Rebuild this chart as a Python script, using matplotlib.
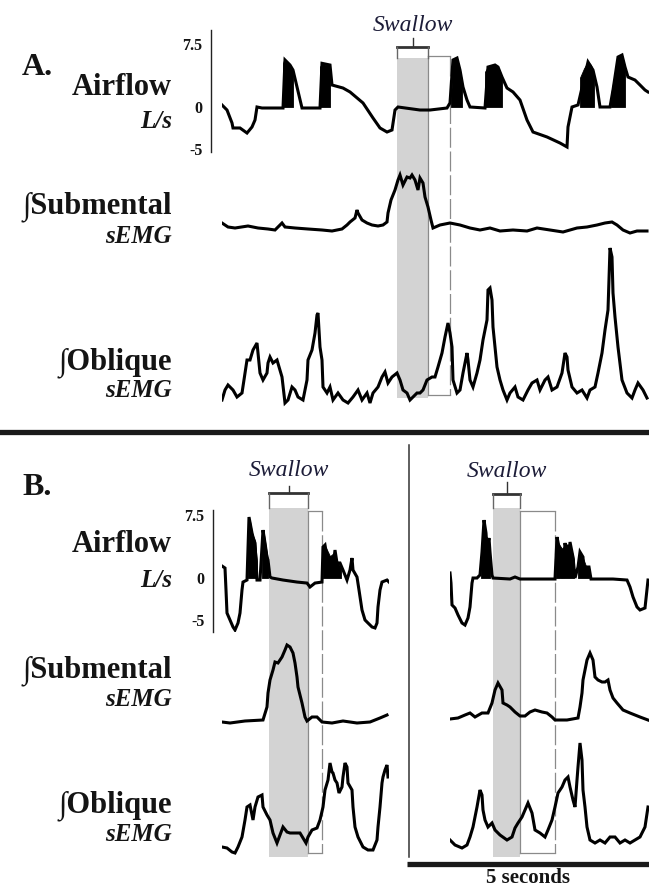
import numpy as np
import matplotlib.pyplot as plt
from matplotlib.patches import Rectangle
from matplotlib.lines import Line2D
from matplotlib.transforms import blended_transform_factory

plt.rcParams['font.family'] = ['Liberation Serif', 'DejaVu Serif']

FS = 48.4

# ---- panel A (one swallow in a long recording) ----
a_air_n = [0, 5, 10, 11, 18, 25, 30, 33, 35, 40, 61, 63, 68, 71, 80, 98, 100, 108, 110, 121,
           128, 141, 151, 158, 165, 170, 173, 176, 198, 208, 225, 228, 231, 235, 238, 241, 245, 248, 263, 266,
           273, 276, 280, 285, 291, 298, 305, 311, 325, 338, 345, 346, 350, 356, 366, 371, 375, 378, 388, 391,
           396, 400, 403, 406, 413, 418, 423, 426]
a_air_v = [0.24, -0.36, -1.9, -2.5, -2.5, -3.1, -2.38, -1.55, 0, -0.12, -0.12, 5.6, 5.0, 4.4, -0.12, -0.12, 5.2, 5.0, 2.62, 2.26,
           1.79, 0.48, -1.31, -2.5, -2.98, -2.74, -0.36, 0, -0.36, -0.36, -0.12, 0.48, 5.6, 5.83, 4.4, 2.38, 0.83, 0, -0.12, 4.76,
           5.0, 4.76, 3.57, 2.26, 1.79, 0.83, -1.55, -2.98, -3.57, -4.29, -4.76, -2.38, 0, 0.24, 5.36, 4.4, 2.38, 0, 0, 2.02,
           5.95, 6.19, 4.76, 3.57, 3.21, 2.62, 2.02, 1.79]
# high-frequency bursts in the airflow (sample index, upper envelope)
a_air_bursts = [([61, 62, 65, 68, 71], [5.2, 5.6, 5.4, 5.0, 4.4]),
                ([98, 100, 104, 108], [4.8, 5.2, 5.0, 5.0]),
                ([229, 231, 235, 238, 240], [1.0, 5.6, 5.8, 4.4, 3.0]),
                ([263, 266, 270, 276, 280], [4.2, 4.8, 5.0, 4.8, 3.6]),
                ([358, 362, 366, 369, 372], [3.5, 4.6, 5.4, 5.0, 4.0]),
                ([389, 392, 396, 400, 403], [1.5, 3.5, 5.9, 6.2, 4.8])]

a_sub_n = [0, 6, 13, 26, 36, 46, 53, 60, 63, 73, 86, 100, 110, 120, 125, 128, 133, 135, 136, 140,
           145, 150, 156, 161, 165, 166, 169, 173, 176, 178, 181, 185, 188, 190, 193, 196, 198, 201, 203, 206,
           209, 211, 218, 228, 238, 248, 258, 268, 278, 291, 305, 315, 328, 341, 355, 365, 375, 383, 390, 395,
           401, 408, 415, 425]
a_sub_v = [9, 5, 4, 6, 4, 3, 2, 9, 5, 4, 3, 2, 1, 3, 7, 10, 14, 22, 19, 12,
           9, 7, 6, 7, 10, 19, 32, 42, 52, 57, 47, 55, 54, 57, 52, 42, 54, 49, 35, 25,
           12, 4, 7, 9, 7, 4, 2, 4, 1, 2, 1, 4, 2, 0, 4, 5, 7, 9, 10, 7,
           2, -1, 1, 1]

a_obl_n = [0, 3, 6, 11, 15, 20, 23, 25, 28, 31, 35, 36, 38, 41, 45, 46, 48, 51, 55, 58,
           60, 63, 66, 70, 73, 76, 81, 85, 86, 90, 93, 95, 96, 98, 100, 101, 105, 108, 111, 116,
           121, 126, 131, 136, 140, 145, 148, 151, 156, 160, 163, 166, 170, 175, 178, 181, 185, 188, 191, 195,
           198, 201, 205, 210, 213, 216, 220, 223, 226, 228, 230, 231, 235, 238, 241, 245, 246, 248, 251, 255,
           258, 261, 265, 266, 268, 270, 271, 273, 275, 278, 281, 285, 288, 293, 296, 301, 306, 310, 315, 318,
           323, 326, 330, 335, 340, 343, 345, 346, 350, 355, 360, 365, 368, 373, 376, 380, 383, 386, 388, 390,
           391, 393, 396, 400, 405, 410, 413, 416, 421, 425]
a_obl_v = [5, 15, 20, 15, 8, 12, 32, 45, 45, 55, 62, 52, 32, 25, 32, 42, 48, 42, 45, 35,
           28, 2, 5, 18, 15, 8, 5, 25, 45, 55, 72, 90, 92, 58, 45, 18, 12, 18, 5, 12,
           5, 2, 8, 15, 5, 12, 2, 12, 18, 28, 33, 22, 28, 32, 25, 15, 12, 5, 8, 12,
           12, 15, 25, 28, 28, 38, 52, 68, 82, 72, 58, 25, 12, 15, 32, 52, 45, 25, 18, 32,
           45, 65, 85, 115, 117, 105, 78, 58, 38, 25, 15, 5, 12, 18, 8, 5, 15, 22, 25, 15,
           25, 28, 15, 18, 32, 52, 48, 35, 18, 12, 15, 7, 15, 18, 32, 52, 75, 95, 157, 148,
           112, 88, 58, 25, 12, 7, 15, 22, 15, 7]

# swallow onset, offset, end of post-swallow window (sample index)
a_swallow = (175, 206, 228)

# ---- panel B, left recording ----
bl_air_n = [0, 3, 4, 5, 8, 11, 13, 16, 18, 20, 21, 25, 27, 30, 31, 33, 35, 38, 41, 43,
            45, 46, 48, 50, 61, 75, 85, 88, 93, 100, 101, 103, 105, 106, 110, 113, 115, 118, 121, 125,
            128, 130, 131, 135, 137, 140, 143, 146, 150, 153, 155, 156, 158, 160, 165, 167]
bl_air_v = [1.43, 1.19, -1.43, -4.17, -5.0, -5.83, -6.19, -5.36, -4.17, -1.43, -0.48, -0.24, 7.26, 5.36, 4.88, 4.17, -0.24, -0.24, 5.71, 4.17,
            2.5, 2.14, 0.12, 0, -0.24, -0.48, -0.6, -1.07, -0.6, -0.48, 3.69, 3.93, 2.5, 1.79, 0.12, 3.33, 1.79, 1.79, 0.95, -0.24,
            0.95, 2.38, 0.95, 0.12, -1.43, -3.81, -5.0, -5.36, -5.83, -5.95, -5.36, -3.45, -1.43, -0.48, -0.24, -0.48]
bl_air_bursts = [([26, 28, 30, 33, 35], [3.0, 6.8, 5.4, 4.4, 2.0]),
                 ([40, 42, 44, 46], [4.0, 5.2, 3.6, 2.2]),
                 ([101, 104, 108, 112, 116, 119], [3.5, 3.6, 2.6, 3.0, 1.8, 1.2])]
bl_sub_n = [0, 8, 23, 41, 45, 46, 48, 51, 53, 56, 60, 63, 65, 68, 71, 73, 75, 76, 80, 83,
            85, 90, 95, 100, 110, 121, 135, 148, 158, 165]
bl_sub_v = [2, 1, 3, 4, 17, 31, 44, 54, 62, 61, 67, 74, 79, 77, 71, 61, 47, 37, 21, 7,
            3, 7, 7, 2, 1, 3, 1, 2, 6, 9]
bl_obl_n = [0, 5, 10, 13, 16, 20, 23, 25, 28, 31, 33, 36, 40, 41, 45, 48, 51, 55, 58, 61,
            65, 68, 73, 78, 81, 84, 86, 90, 95, 98, 101, 103, 106, 108, 110, 111, 113, 115, 117, 120,
            121, 123, 125, 126, 130, 131, 133, 136, 141, 146, 151, 155, 156, 158, 160, 161, 163, 165, 166]
bl_obl_v = [8, 7, 3, 2, 8, 18, 35, 48, 50, 35, 48, 58, 60, 48, 40, 35, 22, 12, 20, 28,
            23, 22, 22, 22, 17, 12, 18, 25, 27, 35, 48, 65, 75, 92, 83, 82, 75, 72, 62, 68,
            78, 92, 88, 72, 65, 48, 28, 18, 8, 5, 5, 15, 28, 48, 72, 78, 85, 90, 78]
bl_swallow = (47, 86, 100)

# ---- panel B, right recording ----
br_air_n = [0, 1, 2, 5, 8, 12, 15, 18, 20, 22, 23, 27, 30, 32, 34, 36, 37, 39, 40, 42,
            43, 60, 65, 70, 97, 105, 107, 109, 111, 113, 115, 117, 118, 120, 123, 125, 128, 130, 133, 134,
            137, 139, 141, 163, 177, 180, 183, 187, 190, 195, 198]
br_air_v = [0.6, -0.6, -3.21, -3.57, -4.4, -5.36, -5.6, -4.76, -3.45, -0.6, 0, 0, 0.36, 3.1, 6.9, 5.36, 3.57, 4.76, 3.1, 0.36,
            0, -0.12, 0.12, -0.12, -0.12, -0.12, 4.88, 3.69, 1.79, 0, 4.17, 2.98, 0.36, 4.29, 2.5, 0, 1.31, 3.1, 2.5, 0.12,
            1.31, 1.31, -0.12, -0.12, -0.24, -1.07, -2.26, -3.45, -3.81, -3.57, -0.24]
br_air_bursts = [([31, 33, 35, 37, 40], [2.5, 6.6, 5.4, 4.5, 2.8]),
                 ([106, 108, 112, 116, 120, 124], [4.6, 4.2, 3.5, 4.0, 4.0, 2.2]),
                 ([128, 130, 133, 136, 139], [1.0, 3.0, 2.4, 1.4, 1.2])]
br_sub_n = [0, 8, 15, 20, 25, 32, 38, 42, 45, 48, 52, 53, 57, 60, 65, 70, 75, 80, 85, 92,
            97, 102, 105, 117, 128, 130, 132, 133, 135, 137, 140, 143, 145, 148, 152, 155, 158, 160, 163, 167,
            173, 180, 190, 198]
br_sub_v = [3, 4, 7, 9, 5, 9, 9, 19, 32, 39, 32, 19, 17, 15, 10, 6, 6, 10, 12, 10,
            9, 5, 2, 2, 4, 15, 29, 42, 52, 62, 69, 62, 45, 42, 40, 40, 42, 32, 24, 19,
            12, 9, 5, 2]
br_obl_n = [0, 5, 12, 17, 20, 23, 27, 30, 32, 33, 35, 38, 42, 45, 50, 57, 62, 65, 68, 72,
            75, 78, 82, 85, 90, 95, 98, 102, 105, 108, 112, 115, 118, 120, 123, 125, 127, 128, 130, 132,
            133, 135, 137, 140, 145, 150, 155, 160, 165, 170, 175, 180, 185, 190, 195, 198]
br_obl_v = [15, 10, 7, 10, 18, 28, 48, 65, 60, 45, 35, 28, 32, 25, 20, 15, 18, 27, 32, 38,
            45, 52, 42, 25, 22, 18, 25, 35, 48, 62, 68, 75, 78, 68, 55, 48, 75, 88, 112, 95,
            65, 48, 28, 15, 12, 15, 12, 18, 18, 12, 15, 12, 15, 18, 28, 48]
br_swallow = (43, 70, 105)

air_ticks = [7.5, 0, -5]
air_ticklabels = ['7.5', '0', '-5']
scale_seconds = 5

W, H = 649, 888
fig = plt.figure(figsize=(W / 100, H / 100), dpi=100)
INK = '#141414'


def fy(y):
    return 1 - y / H


def trace_axes(left, top, width, height, ylim):
    ax = fig.add_axes([left / W, 1 - (top + height) / H, width / W, height / H])
    ax.set_xlim(0, width / FS)
    ax.set_ylim(*ylim)
    ax.patch.set_visible(False)
    for s in ax.spines.values():
        s.set_visible(False)
    ax.set_xticks([])
    ax.set_yticks([])
    return ax


def draw_trace(ax, n, v, bursts=()):
    ax.plot(np.array(n) / FS, v, color='black', lw=2.2, solid_joinstyle='miter')
    for bn, btop in bursts:
        ax.fill_between(np.array(bn) / FS, btop, 0, color='black', lw=0.6)


def airflow_scale(ax, offset_px):
    sp = ax.spines['left']
    sp.set_visible(True)
    sp.set_position(('outward', offset_px * 0.72))
    sp.set_linewidth(1.0)
    sp.set_color('#222222')
    ax.set_yticks(air_ticks)
    ax.set_yticklabels(air_ticklabels, fontsize=11.5, fontweight='bold', color=INK)
    ax.tick_params(axis='y', length=0, pad=6)


def swallow(ax, marks, gray_top, gray_bot, box_top, box_bot, bracket_y, stem_y, label_y):
    on, off, end = (m / FS for m in marks)
    tr = blended_transform_factory(ax.transData, fig.transFigure)
    fig.add_artist(Rectangle((on, fy(gray_bot)), off - on, fy(gray_top) - fy(gray_bot),
                             transform=tr, facecolor='#d3d3d3', edgecolor='none', zorder=-3))
    edges = [([off, end], [box_top, box_top], '-'),
             ([off, end], [box_bot, box_bot], '-'),
             ([off, off], [box_top, box_bot], '-'),
             ([end, end], [box_top, box_bot], (0, (16, 3)))]
    for xs, ys, ls in edges:
        fig.add_artist(Line2D(xs, [fy(y) for y in ys], transform=tr, color='#8a8a8a',
                              lw=0.9, ls=ls, zorder=-2))
    fig.add_artist(Line2D([on, off], [fy(bracket_y)] * 2, transform=tr, color='#333333', lw=2.0))
    for x in (on, off):
        fig.add_artist(Line2D([x, x], [fy(bracket_y), fy(gray_top)], transform=tr, color='#666666', lw=1.0))
    mid = (on + off) / 2
    fig.add_artist(Line2D([mid, mid], [fy(stem_y), fy(bracket_y)], transform=tr, color='#333333', lw=1.0))
    fig.text(mid, fy(label_y), 'Swallow', transform=tr, ha='center', va='baseline',
             fontsize=17, style='italic', color='#1c1c38')


def label(text, y, size, style='normal'):
    fig.text(172 / W, fy(y), text, ha='right', va='baseline', fontsize=size,
             fontweight='bold', style=style, color=INK)


# ---- panel A ----
ax = trace_axes(222, 30, 427, 122, (-5.36, 9.17))
draw_trace(ax, a_air_n, a_air_v, a_air_bursts)
airflow_scale(ax, 11)
swallow(ax, a_swallow, 58, 398, 56, 395, 47, 38, 31)
ax = trace_axes(222, 165, 427, 75, (-8, 67))
draw_trace(ax, a_sub_n, a_sub_v)
ax = trace_axes(222, 240, 427, 172, (-7, 165))
draw_trace(ax, a_obl_n, a_obl_v)

fig.text(22 / W, fy(75), 'A.', fontsize=23, fontweight='bold', color=INK, va='baseline')
label('Airflow', 95, 22)
label('L/s', 128, 18, 'italic')
label('\u222bSubmental', 213, 22)
label('sEMG', 243, 18, 'italic')
label('\u222bOblique', 369, 22)
label('sEMG', 397, 18, 'italic')

fig.add_artist(Line2D([0, 1], [fy(432)] * 2, color='#1a1a1a', lw=3.8))

# ---- panel B ----
ax = trace_axes(222, 510, 167, 122, (-6.43, 8.10))
draw_trace(ax, bl_air_n, bl_air_v, bl_air_bursts)
airflow_scale(ax, 9)
swallow(ax, bl_swallow, 508, 857, 511, 853, 493, 486, 476)
ax = trace_axes(222, 640, 167, 90, (-6, 84))
draw_trace(ax, bl_sub_n, bl_sub_v)
ax = trace_axes(222, 740, 167, 120, (-5, 115))
draw_trace(ax, bl_obl_n, bl_obl_v)

ax_r = trace_axes(450, 510, 199, 122, (-6.43, 8.10))
draw_trace(ax_r, br_air_n, br_air_v, br_air_bursts)
swallow(ax_r, br_swallow, 508, 857, 511, 853, 494, 482, 477)
ax = trace_axes(450, 640, 199, 90, (-8, 82))
draw_trace(ax, br_sub_n, br_sub_v)
ax = trace_axes(450, 740, 199, 120, (-5, 115))
draw_trace(ax, br_obl_n, br_obl_v)

fig.text(22 / W, fy(495), 'B.', fontsize=23, fontweight='bold', color=INK, va='baseline')
label('Airflow', 552, 22)
label('L/s', 587, 18, 'italic')
label('\u222bSubmental', 677, 22)
label('sEMG', 706, 18, 'italic')
label('\u222bOblique', 812, 22)
label('sEMG', 841, 18, 'italic')

fig.add_artist(Line2D([409 / W] * 2, [fy(445), fy(857)], color='#333333', lw=1.1))

# 5 second time-scale bar under the right recording
t_end = ax_r.get_xlim()[1]
tr = blended_transform_factory(ax_r.transData, fig.transFigure)
fig.add_artist(Line2D([t_end - scale_seconds, t_end], [fy(864)] * 2, transform=tr,
                      color='#1a1a1a', lw=3.8, solid_capstyle='butt'))
fig.text(t_end - scale_seconds / 2, fy(883), '%d seconds' % scale_seconds, transform=tr,
         ha='center', va='baseline', fontsize=15, fontweight='bold', color=INK)

fig.savefig('out.png', dpi=100)
